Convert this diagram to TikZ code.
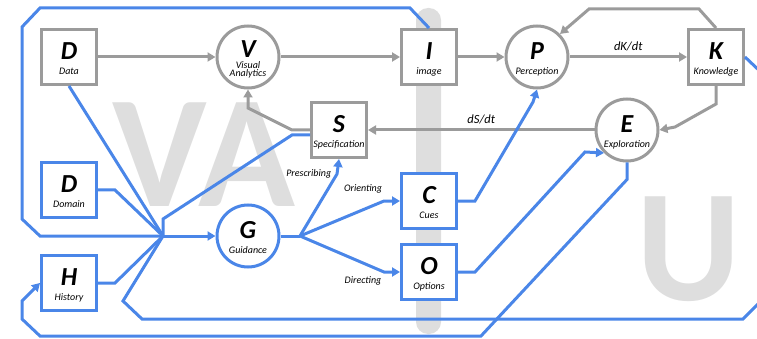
\documentclass[tikz,border=0pt]{standalone}
\usepackage{fontspec}
\setmainfont{Carlito}
\usetikzlibrary{arrows.meta}

\definecolor{vagray}{RGB}{155,155,155}
\definecolor{vablue}{RGB}{74,134,232}
\definecolor{wmgray}{RGB}{222,222,222}

\newcommand{\vaLetter}[1]{{\fontsize{26}{26}\selectfont\bfseries\itshape\rule{0pt}{21pt}#1}}
\newcommand{\vaSub}[1]{{\itshape #1}}

\begin{document}
\begin{tikzpicture}[x=1pt,y=-1pt,line width=3pt,>={Triangle[length=8pt,width=9pt]},
        gbox/.style={draw=vagray,fill=white,minimum size=55pt,inner sep=0pt,align=center,font=\fontsize{10}{10}\selectfont},
        bbox/.style={gbox,draw=vablue},
        gcirc/.style={gbox,circle,minimum size=62pt},
        bcirc/.style={gcirc,draw=vablue},
        glink/.style={draw=vagray,->},
        blink/.style={draw=vablue,->},
        bline/.style={draw=vablue},
        wmark/.style={text=wmgray,anchor=base,inner sep=0pt,font=\fontsize{160}{160}\selectfont\bfseries},
        steplabel/.style={font=\fontsize{10}{10}\selectfont\itshape},
        ratelabel/.style={font=\fontsize{12.5}{12.5}\selectfont\itshape}]
        \useasboundingbox (0,0) rectangle (757,339);
        \clip (0,0) rectangle (757,339);

        % watermark
        \fill[wmgray,rounded corners=12pt] (416,8) rectangle (441,334);
        \node[wmark] (wmva) at (204,206) {VA};
        \node[wmark] (wmu) at (689,300) {U};

        \node[gbox] (data) at (69,57) {\vaLetter{D}\\[5pt]\vaSub{Data}};
        \node[gcirc] (va) at (248,57) {\vaLetter{V}\\[1pt]\vaSub{Visual}\\[-2pt]\vaSub{Analytics}};
        \node[gbox] (image) at (429,57) {\vaLetter{I}\\[5pt]\vaSub{image}};
        \node[gcirc] (perc) at (537,57) {\vaLetter{P}\\[5pt]\vaSub{Perception}};
        \node[gbox] (know) at (716,57) {\vaLetter{K}\\[5pt]\vaSub{Knowledge}};
        \node[gbox] (spec) at (339,130) {\vaLetter{S}\\[5pt]\vaSub{Specification}};
        \node[gcirc] (expl) at (627,130) {\vaLetter{E}\\[5pt]\vaSub{Exploration}};
        \node[bbox] (domain) at (69,190) {\vaLetter{D}\\[5pt]\vaSub{Domain}};
        \node[bcirc] (guid) at (248,236) {\vaLetter{G}\\[5pt]\vaSub{Guidance}};
        \node[bbox] (hist) at (69,283) {\vaLetter{H}\\[5pt]\vaSub{History}};
        \node[bbox] (cues) at (429,201) {\vaLetter{C}\\[5pt]\vaSub{Cues}};
        \node[bbox] (opts) at (429,272) {\vaLetter{O}\\[5pt]\vaSub{Options}};

        \coordinate (hub) at (163,236);
        \coordinate (fork) at (300,236);

        % gray links
        \draw[glink] (data) -- (va);
        \draw[glink] (va) -- (image);
        \draw[glink] (image) -- (perc);
        \draw[glink] (perc) -- node[above=1pt,ratelabel]{dK/dt} (know);
        \draw[glink] (know.north) -- ++(-17,-19) -- ++(-110,0) -- (perc.north east);
        \draw[glink] (know.south) -- ++(0,18) -- ++(-41,23) -- (expl.east);
        \draw[glink] (expl) -- node[above=1pt,ratelabel]{dS/dt} (spec);
        \draw[glink] (spec.west) -- ++(-18,0) -- (248,108) -- (va.south);

        % blue links
        \draw[bline] (data.south) -- (hub);
        \draw[bline] (domain.east) -- ++(17,0) -- (hub);
        \draw[bline] (hist.east) -- ++(17,0) -- (hub);
        \draw[bline] (hub) -- ++(0,-17) -- (292,135) -- ([yshift=-5pt]spec.west);
        \draw[bline] (image.north) -- (410,8) -- (40,8) -- (22,27) -- (22,219) -- (40,236) -- (hub);
        \draw[blink] (hub) -- (guid);
        \draw[blink] (expl.south) -- ++(0,17) -- (481,336) -- (40,336) -- (22,319) -- (22,301) -- (hist.west);
        \draw[bline] (know.east) -- (765,76) -- (765,297) -- (743,319) -- (142,319) -- (123,301) -- (hub);

        \draw[bline] (guid.east) -- (fork);
        \draw[blink] (fork) -- (337,174) node[left=1pt,steplabel]{Prescribing} -- (spec.south);
        \draw[blink] (fork) -- node[steplabel,pos=0.75,above=12pt]{Orienting} (384,201) -- (cues.west);
        \draw[blink] (fork) -- node[steplabel,pos=0.75,below=9pt]{Directing} (384,272) -- (opts.west);
        \draw[blink] (cues.east) -- ++(17,0) -- (533,102) -- (perc.south);
        \draw[blink] (opts.east) -- ++(17,0) -- (585,152) -- (expl.south west);
    \end{tikzpicture}
\end{document}
